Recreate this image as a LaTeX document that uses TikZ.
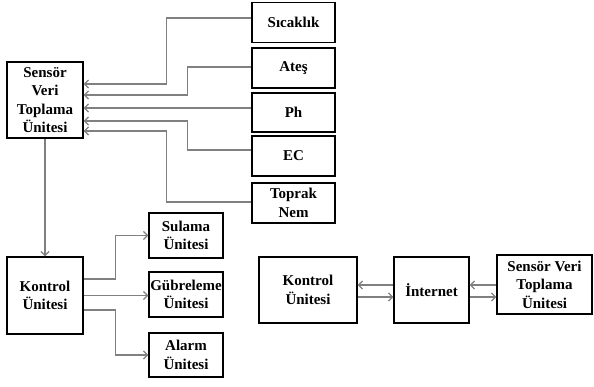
\documentclass[tikz,border=0pt]{standalone}
\usepackage{fontspec}
\setmainfont{Liberation Serif}
\usetikzlibrary{arrows.meta}

\begin{document}
\begin{tikzpicture}[x=1pt,y=-1pt,
  box/.style={draw,line width=1.2pt,inner sep=0pt,align=center,
    font=\bfseries\fontsize{15}{18.5}\selectfont},
  conn/.style={draw=black!50,line width=1.3pt,-{Straight Barb[length=4pt,width=8pt]}}]
\path[use as bounding box] (0,0) rectangle (594,387);
% sensors
\node[box,minimum width=83pt,minimum height=40pt] (sicaklik) at (293.5,22.5) {Sıcaklık};
\node[box,minimum width=83pt,minimum height=40pt] (ates) at (293.5,68) {Ateş};
\node[box,minimum width=83pt,minimum height=39pt] (ph) at (293.5,112.5) {Ph};
\node[box,minimum width=83pt,minimum height=40pt] (ec) at (293.5,156) {EC};
\node[box,minimum width=83pt,minimum height=40pt] (toprak) at (293.5,203) {Toprak\\Nem};
% units
\node[box,minimum width=76pt,minimum height=76pt] (sensor) at (45,100) {Sensör\\Veri\\Toplama\\Ünitesi};
\node[box,minimum width=76pt,minimum height=77pt] (kontrol) at (45,295.5) {Kontrol\\Ünitesi};
\node[box,minimum width=74pt,minimum height=45pt] (sulama) at (186,235.5) {Sulama\\Ünitesi};
\node[box,minimum width=74pt,minimum height=45pt] (gubre) at (186,294.5) {Gübreleme\\Ünitesi};
\node[box,minimum width=74pt,minimum height=44pt] (alarm) at (186,355) {Alarm\\Ünitesi};
% network
\node[box,minimum width=98pt,minimum height=66pt] (kontrolb) at (308,290) {Kontrol\\Ünitesi};
\node[box,minimum width=75pt,minimum height=66pt] (internet) at (431.5,290) {İnternet};
\node[box,minimum width=95pt,minimum height=59pt] (sensorb) at (544.5,284.5) {Sensör Veri\\Toplama\\Ünitesi};

\draw[conn] ([yshift=4.5pt]sicaklik.west) -- ++(-85,0) |- ([yshift=16pt]sensor.east);
\draw[conn] ([yshift=1pt]ates.west) -- ++(-64,0) |- ([yshift=5pt]sensor.east);
\draw[conn] ([yshift=4.5pt]ph.west) -- ([yshift=-8pt]sensor.east);
\draw[conn] ([yshift=6pt]ec.west) -- ++(-64,0) |- ([yshift=-21pt]sensor.east);
\draw[conn] ([yshift=1pt]toprak.west) -- ++(-85,0) |- ([yshift=-31pt]sensor.east);
\draw[conn] (sensor.south) -- (kontrol.north);

\draw[conn] ([yshift=16.5pt]kontrol.east) -- ++(32,0) |- (sulama.west);
\draw[conn] (kontrol.east) -- (kontrol.east -| gubre.west);
\draw[conn] ([yshift=-14.5pt]kontrol.east) -- ++(32,0) |- (alarm.west);

\draw[conn] ([yshift=5pt]internet.west) -- ([yshift=5pt]kontrolb.east);
\draw[conn] ([yshift=-7pt]kontrolb.east) -- ([yshift=-7pt]internet.west);
\draw[conn] ([yshift=-0.5pt]sensorb.west) -- ([yshift=5pt]internet.east);
\draw[conn] ([yshift=-7pt]internet.east) -- ([yshift=-12.5pt]sensorb.west);
\end{tikzpicture}
\end{document}
